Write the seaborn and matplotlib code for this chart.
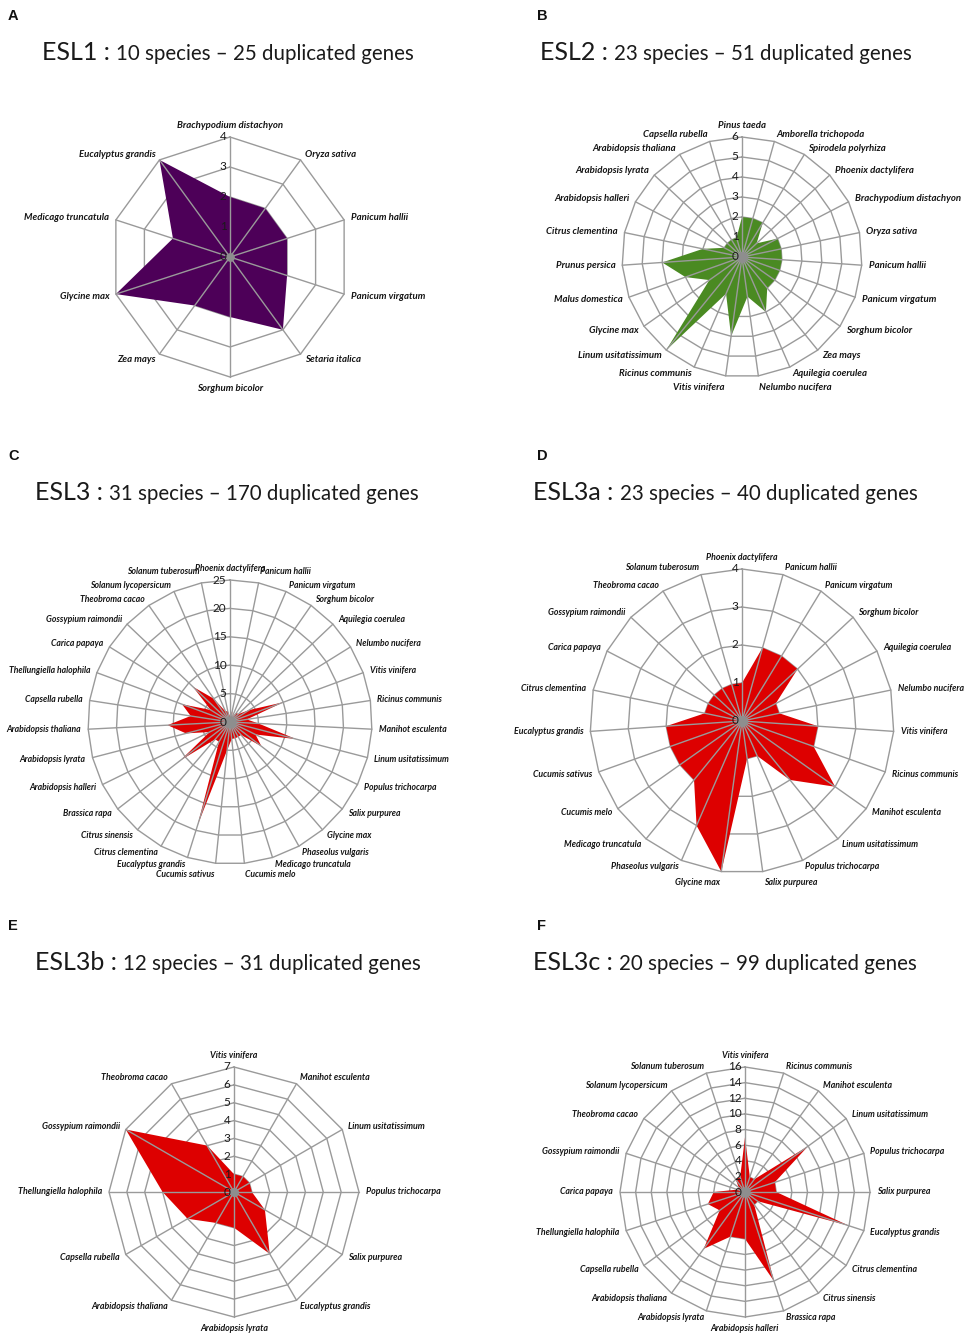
import numpy as np
import matplotlib
matplotlib.use("Agg")
import matplotlib.pyplot as plt
import seaborn as sns

sns.set_theme(style="white")
plt.rcParams["font.family"] = ["Lato", "DejaVu Sans"]

W, H = 968, 1339

# ESL1 : 10 species
esl1_species = ["Brachypodium distachyon", "Oryza sativa", "Panicum hallii", "Panicum virgatum",
                "Setaria italica", "Sorghum bicolor", "Zea mays", "Glycine max",
                "Medicago truncatula", "Eucalyptus grandis"]
esl1_counts = [2, 2, 2, 2, 3, 2, 2, 4, 2, 4]

# ESL2 : 23 species
esl2_species = ["Pinus taeda", "Amborella trichopoda", "Spirodela polyrhiza", "Phoenix dactylifera",
                "Brachypodium distachyon", "Oryza sativa", "Panicum hallii", "Panicum virgatum",
                "Sorghum bicolor", "Zea mays", "Aquilegia coerulea", "Nelumbo nucifera",
                "Vitis vinifera", "Ricinus communis", "Linum usitatissimum", "Glycine max",
                "Malus domestica", "Prunus persica", "Citrus clementina", "Arabidopsis halleri",
                "Arabidopsis lyrata", "Arabidopsis thaliana", "Capsella rubella"]
esl2_counts = [2, 2, 2, 1, 2, 2, 2, 2, 2, 2, 3, 2, 4, 2, 6, 2, 3, 4, 2, 1, 1, 1, 1]

# ESL3 : 31 species
esl3_species = ["Phoenix dactylifera", "Panicum hallii", "Panicum virgatum", "Sorghum bicolor",
                "Aquilegia coerulea", "Nelumbo nucifera", "Vitis vinifera", "Ricinus communis",
                "Manihot esculenta", "Linum usitatissimum", "Populus trichocarpa", "Salix purpurea",
                "Glycine max", "Phaseolus vulgaris", "Medicago truncatula", "Cucumis melo",
                "Cucumis sativus", "Eucalyptus grandis", "Citrus clementina", "Citrus sinensis",
                "Brassica rapa", "Arabidopsis halleri", "Arabidopsis lyrata", "Arabidopsis thaliana",
                "Capsella rubella", "Thellungiella halophila", "Carica papaya", "Gossypium raimondii",
                "Theobroma cacao", "Solanum lycopersicum", "Solanum tuberosum"]
esl3_counts = [1, 2, 1, 2, 2, 4, 10, 3, 5, 12, 5, 7, 3, 3, 3, 3, 5, 19, 4, 4,
               11, 4, 8, 11, 7, 9, 4, 9, 5, 2, 2]

# ESL3a : 23 species
esl3a_species = ["Phoenix dactylifera", "Panicum hallii", "Panicum virgatum", "Sorghum bicolor",
                 "Aquilegia coerulea", "Nelumbo nucifera", "Vitis vinifera", "Ricinus communis",
                 "Manihot esculenta", "Linum usitatissimum", "Populus trichocarpa", "Salix purpurea",
                 "Glycine max", "Phaseolus vulgaris", "Medicago truncatula", "Cucumis melo",
                 "Cucumis sativus", "Eucalyptus grandis", "Citrus clementina", "Carica papaya",
                 "Gossypium raimondii", "Theobroma cacao", "Solanum tuberosum"]
esl3a_counts = [1, 2, 2, 2, 1, 1, 2, 2, 3, 2, 1, 1, 4, 3, 2, 2, 2, 2, 1, 1, 1, 1, 1]

# ESL3b : 12 species
esl3b_species = ["Vitis vinifera", "Manihot esculenta", "Linum usitatissimum", "Populus trichocarpa",
                 "Salix purpurea", "Eucalyptus grandis", "Arabidopsis lyrata", "Arabidopsis thaliana",
                 "Capsella rubella", "Thellungiella halophila", "Gossypium raimondii", "Theobroma cacao"]
esl3b_counts = [1, 1, 1, 1, 2, 4, 2, 2, 3, 4, 7, 3]

# ESL3c : 20 species
esl3c_species = ["Vitis vinifera", "Ricinus communis", "Manihot esculenta", "Linum usitatissimum",
                 "Populus trichocarpa", "Salix purpurea", "Eucalyptus grandis", "Citrus clementina",
                 "Citrus sinensis", "Brassica rapa", "Arabidopsis halleri", "Arabidopsis lyrata",
                 "Arabidopsis thaliana", "Capsella rubella", "Thellungiella halophila", "Carica papaya",
                 "Gossypium raimondii", "Theobroma cacao", "Solanum lycopersicum", "Solanum tuberosum"]
esl3c_counts = [7, 2, 2, 10, 4, 4, 14, 2, 2, 12, 6, 6, 9, 4, 5, 4, 1, 1, 2, 2]

panels = [
    # letter, head, tail, species, counts, rmax, step, colour, centre(px), radius(px), title(x, y), label size
    ("A", "ESL1 : ", "10 species – 25 duplicated genes", esl1_species, esl1_counts, 4, 1,
     "#4d0058", (230, 257), 120, (42, 60), 6.9),
    ("B", "ESL2 : ", "23 species – 51 duplicated genes", esl2_species, esl2_counts, 6, 1,
     "#4a8a22", (742, 257), 120, (540, 60), 6.9),
    ("C", "ESL3 : ", "31 species – 170 duplicated genes", esl3_species, esl3_counts, 25, 5,
     "#dd0000", (230, 722), 142, (35, 500), 6.2),
    ("D", "ESL3a : ", "23 species – 40 duplicated genes", esl3a_species, esl3a_counts, 4, 1,
     "#dd0000", (742, 721), 152, (533, 500), 6.3),
    ("E", "ESL3b : ", "12 species – 31 duplicated genes", esl3b_species, esl3b_counts, 7, 1,
     "#dd0000", (234, 1192), 125, (35, 970), 6.4),
    ("F", "ESL3c : ", "20 species – 99 duplicated genes", esl3c_species, esl3c_counts, 16, 2,
     "#dd0000", (745, 1192), 125, (533, 970), 6.3),
]

fig = plt.figure(figsize=(W / 100, H / 100), dpi=100)
fig.patch.set_facecolor("white")
grid_col = "#9a9a9a"


def radar(ax, species, counts, rmax, step, color, lab_size):
    n = len(species)
    theta = np.linspace(0, 2 * np.pi, n, endpoint=False)
    tc = np.append(theta, theta[0])
    vc = np.append(counts, counts[0])
    ax.set_theta_zero_location("N")
    ax.set_theta_direction(-1)
    ax.set_ylim(0, rmax)
    ax.grid(False)
    ax.spines["polar"].set_visible(False)
    ax.set_xticks([])
    ax.set_yticks([])
    ax.patch.set_alpha(0)
    # polygon rings
    for v in np.arange(step, rmax + step / 2, step):
        ax.plot(tc, np.full(n + 1, v), color=grid_col, lw=1.0, zorder=1, clip_on=False)
    ax.fill(tc, vc, color=color, lw=0, zorder=2)
    # spokes on top of the fill
    for t in theta:
        ax.plot([t, t], [0, rmax], color=grid_col, lw=1.0, zorder=3, clip_on=False)
    ax.scatter([0], [0], s=12 + 1.6 * n, color="#8e8e8e", zorder=4, clip_on=False)
    # value labels along the top spoke
    for v in np.arange(0, rmax + step / 2, step):
        ax.annotate(f"{int(v)}", xy=(0, v), xytext=(-2.5, 0), textcoords="offset points",
                    ha="right", va="center", fontsize=8.5, color="#1a1a1a",
                    family=["Lato", "DejaVu Sans"], zorder=5, annotation_clip=False)
    # species labels
    for t, name in zip(theta, species):
        s, c = np.sin(t), np.cos(t)
        ha = "left" if s > 0.05 else ("right" if s < -0.05 else "center")
        if c > 0.97:
            va = "bottom"
        elif c < -0.97:
            va = "top"
        else:
            va = "center"
        ax.annotate(name, xy=(t, rmax), xytext=(5 * s, 5 * c), textcoords="offset points",
                    ha=ha, va=va, fontsize=lab_size, fontweight="bold", fontstyle="italic",
                    color="#141414", annotation_clip=False)


for letter, head, tail, species, counts, rmax, step, color, (cx, cy), R, (tx, ty), lab_size in panels:
    ax = fig.add_axes([(cx - R) / W, 1 - (cy + R) / H, 2 * R / W, 2 * R / H], projection="polar")
    radar(ax, species, counts, rmax, step, color, lab_size)

    # panel letter
    lx = 8 if tx < 300 else 537
    fig.text(lx / W, 1 - (ty - 40) / H, letter, fontsize=10.5, fontweight="bold",
             family=["Liberation Sans", "DejaVu Sans"], ha="left", va="baseline", color="#111111")
    # title: large head, smaller tail
    t1 = fig.text(tx / W, 1 - ty / H, head, fontsize=18, ha="left", va="baseline", color="#1a1a1a")
    fig.canvas.draw()
    bb = t1.get_window_extent(renderer=fig.canvas.get_renderer())
    fig.text(bb.x1 / W, 1 - ty / H, tail, fontsize=14.8, ha="left", va="baseline", color="#1a1a1a")

fig.savefig("out.png", dpi=100, facecolor="white")
